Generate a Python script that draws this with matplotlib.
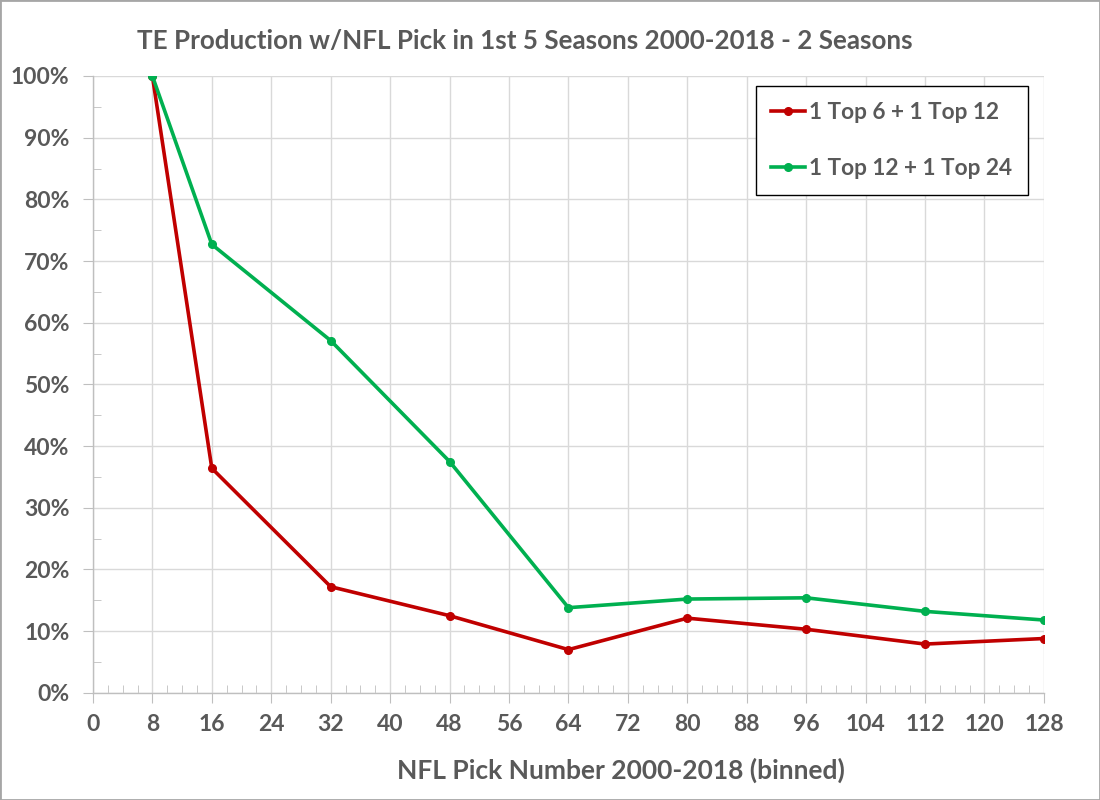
import matplotlib.pyplot as plt
from matplotlib.ticker import MultipleLocator, FuncFormatter
from matplotlib.patches import Rectangle

# -------------------------[Data]-------------------------
picks = [8, 16, 32, 48, 64, 80, 96, 112, 128]
top6_top12 = [100, 36.4, 17.2, 12.5, 7.0, 12.1, 10.3, 7.9, 8.8]
top12_top24 = [100, 72.7, 57.1, 37.5, 13.8, 15.2, 15.4, 13.2, 11.8]
labels = ['1 Top 6 + 1 Top 12', '1 Top 12 + 1 Top 24']
# --------------------------------------------------------

txt = '#595959'
plt.rcParams['font.family'] = ['Lato', 'DejaVu Sans']
plt.rcParams['font.weight'] = 'bold'

fig = plt.figure(figsize=(11, 8), dpi=100)
ax = fig.add_axes([0.0845, 0.134, 0.8645, 0.771])

ax.plot(picks, top6_top12, color='#C00000', lw=2.6, marker='o', ms=5.5, label=labels[0], zorder=3)
ax.plot(picks, top12_top24, color='#00B050', lw=2.6, marker='o', ms=5.5, label=labels[1], zorder=3)

ax.set_xlim(0, 128)
ax.set_ylim(0, 100)
ax.xaxis.set_major_locator(MultipleLocator(8))
ax.xaxis.set_minor_locator(MultipleLocator(2))
ax.yaxis.set_major_locator(MultipleLocator(10))
ax.yaxis.set_minor_locator(MultipleLocator(5))
ax.yaxis.set_major_formatter(FuncFormatter(lambda v, p: '{:.0f}%'.format(v)))

ax.grid(which='major', color='#d9d9d9', lw=1)
ax.set_axisbelow(True)
for s in ['top', 'right']:
    ax.spines[s].set_visible(False)
for s in ['left', 'bottom']:
    ax.spines[s].set_color('#bfbfbf')
    ax.spines[s].set_linewidth(1)

ax.tick_params(which='major', direction='out', length=7, color='#bfbfbf',
               labelsize=16.5, labelcolor=txt)
ax.tick_params(axis='y', which='major', pad=10)
ax.tick_params(axis='x', which='major', pad=8)
ax.tick_params(which='minor', direction='in', length=6, color='#bfbfbf')
for lab in ax.get_xticklabels() + ax.get_yticklabels():
    lab.set_fontweight('bold')

ax.set_xlabel('NFL Pick Number 2000-2018 (binned)', fontsize=19, color=txt,
              fontweight='bold', va='center')
ax.xaxis.set_label_coords(0.555, -0.125)
fig.text(0.477, 0.949, 'TE Production w/NFL Pick in 1st 5 Seasons 2000-2018 - 2 Seasons',
         ha='center', va='center', fontsize=18.7, color=txt, fontweight='bold')

leg = ax.legend(loc='upper right', bbox_to_anchor=(0.983, 0.984), fontsize=16.3,
                frameon=True, fancybox=False, edgecolor='black', framealpha=1,
                labelspacing=1.55, borderpad=0.7, handlelength=1.5, handletextpad=0.15,
                borderaxespad=0)
leg.get_frame().set_linewidth(1)
for t in leg.get_texts():
    t.set_color(txt)
    t.set_fontweight('bold')

fig.add_artist(Rectangle((0, 0), 1, 1, transform=fig.transFigure, fill=False,
                         edgecolor='#a6a6a6', lw=2))

fig.savefig('out.png', dpi=100)
